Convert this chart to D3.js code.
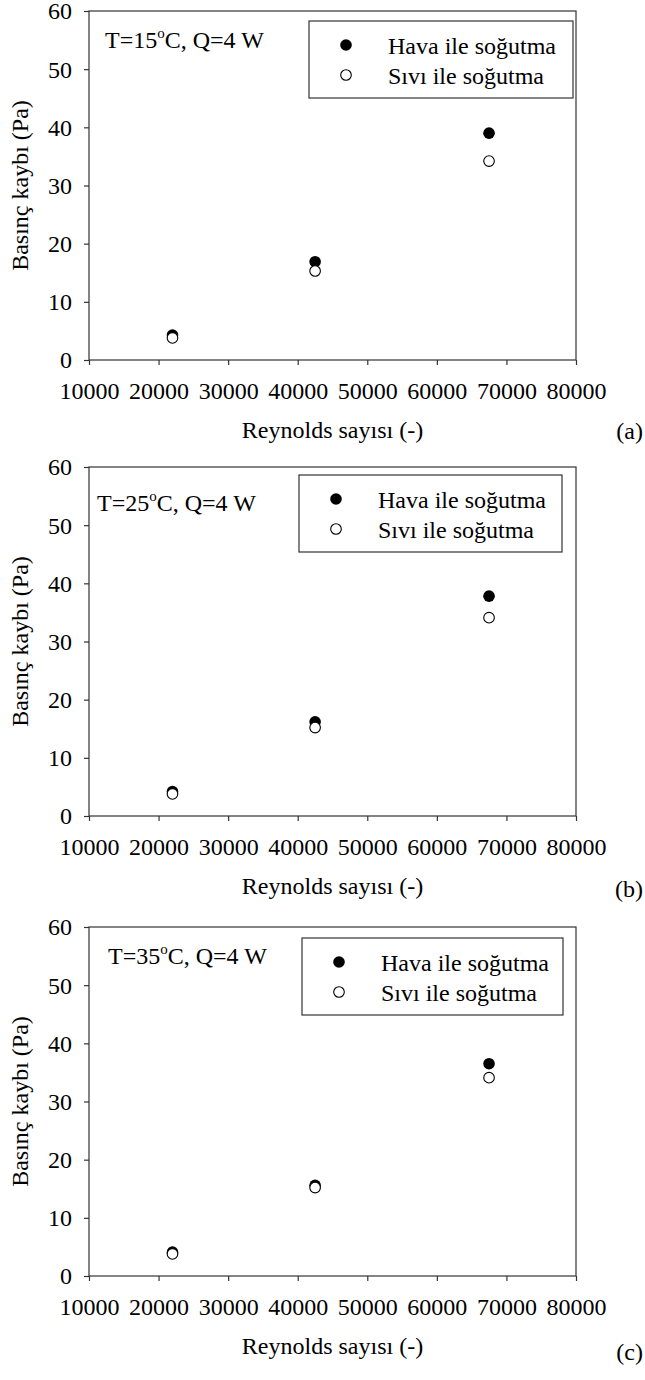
<!DOCTYPE html>
<html>
<head>
<meta charset="UTF-8">
<title>Basınç kaybı</title>
<script src="https://d3js.org/d3.v7.min.js"></script>
<style>
  html, body { margin: 0; padding: 0; background: #fff; }
  svg text { font-family: "Liberation Serif", "Times New Roman", serif; fill: #000; }
</style>
</head>
<body>
<div id="container"></div>
<script>
// data
const reynolds = [22000, 42500, 67500];
const panelNames = ["(a)", "(b)", "(c)"];
const panelTemps = ["15", "25", "35"];
const havaA = [4.3, 16.9, 39.0];
const siviA = [3.8, 15.3, 34.2];
const havaB = [4.2, 16.2, 37.8];
const siviB = [3.8, 15.2, 34.1];
const havaC = [4.1, 15.6, 36.5];
const siviC = [3.8, 15.2, 34.1];
const xTicks = [10000, 20000, 30000, 40000, 50000, 60000, 70000, 80000];
const yTicks = [0, 10, 20, 30, 40, 50, 60];
const seriesNames = ["Hava ile soğutma", "Sıvı ile soğutma"];

const havaAll = [havaA, havaB, havaC];
const siviAll = [siviA, siviB, siviC];

const width = 645, height = 1380;
const left = 89, right = 576, plotH = 349;
const tops = [11, 467, 927];
// small per-panel layout offsets (annotation / legend box / panel label)
const noteX = [105, 97, 108], noteDy = [37, 44, 37];
const legX = [309, 299, 302], legDy = [10, 8, 11], legW = [264, 263, 261];
const labelDy = [79, 81, 84];

const svg = d3.select("#container").append("svg")
  .attr("width", width).attr("height", height);

const x = d3.scaleLinear().domain([10000, 80000]).range([left, right]);

tops.forEach((top, p) => {
  const bottom = top + plotH;
  const y = d3.scaleLinear().domain([0, 60]).range([bottom, top]);
  const g = svg.append("g");

  // frame
  g.append("rect")
    .attr("x", left).attr("y", top)
    .attr("width", right - left).attr("height", plotH)
    .attr("fill", "none").attr("stroke", "#333").attr("stroke-width", 1.2);

  // axes
  const xa = g.append("g").attr("transform", `translate(0,${bottom})`)
    .call(d3.axisBottom(x).tickValues(xTicks).tickFormat(d3.format("d")).tickSize(5).tickSizeOuter(0));
  xa.select(".domain").remove();
  xa.selectAll("line").attr("stroke", "#333").attr("stroke-width", 1.2);
  xa.selectAll("text").attr("y", 39).attr("dy", 0)
    .style("font-size", "24px").style("font-family", "Liberation Serif").attr("fill", "#000");

  const ya = g.append("g").attr("transform", `translate(${left},0)`)
    .call(d3.axisLeft(y).tickValues(yTicks).tickSize(5).tickPadding(12).tickSizeOuter(0));
  ya.select(".domain").remove();
  ya.selectAll("line").attr("stroke", "#333").attr("stroke-width", 1.2);
  ya.selectAll("text").attr("dy", "0.33em")
    .style("font-size", "24px").style("font-family", "Liberation Serif").attr("fill", "#000");

  // axis titles
  g.append("text")
    .attr("x", (left + right) / 2).attr("y", bottom + 78)
    .attr("text-anchor", "middle").style("font-size", "24px")
    .text("Reynolds sayısı (-)");
  g.append("text")
    .attr("transform", `translate(28,${(top + bottom) / 2}) rotate(-90)`)
    .attr("text-anchor", "middle").style("font-size", "24px")
    .text("Basınç kaybı (Pa)");
  g.append("text")
    .attr("x", 643).attr("y", bottom + labelDy[p])
    .attr("text-anchor", "end").style("font-size", "24px")
    .text(panelNames[p]);

  // condition note
  const note = g.append("text")
    .attr("x", noteX[p]).attr("y", top + noteDy[p])
    .style("font-size", "24px");
  note.append("tspan").text("T=" + panelTemps[p]);
  note.append("tspan").attr("dy", -10).style("font-size", "15px").text("o");
  note.append("tspan").attr("dy", 10).text("C, Q=4 W");

  // points: filled first, open on top
  g.selectAll(".hava").data(reynolds.map((r, i) => [r, havaAll[p][i]]))
    .enter().append("circle")
    .attr("cx", d => x(d[0])).attr("cy", d => y(d[1])).attr("r", 5.8)
    .attr("fill", "#000");
  g.selectAll(".sivi").data(reynolds.map((r, i) => [r, siviAll[p][i]]))
    .enter().append("circle")
    .attr("cx", d => x(d[0])).attr("cy", d => y(d[1])).attr("r", 5.3)
    .attr("fill", "#fff").attr("stroke", "#000").attr("stroke-width", 1.1);

  // legend
  const ly = top + legDy[p];
  const lg = g.append("g");
  lg.append("rect")
    .attr("x", legX[p]).attr("y", ly).attr("width", legW[p]).attr("height", 77)
    .attr("fill", "#fff").attr("stroke", "#333").attr("stroke-width", 1.2);
  seriesNames.forEach((name, i) => {
    const cy = ly + 24 + i * 30;
    lg.append("circle")
      .attr("cx", legX[p] + 37).attr("cy", cy)
      .attr("r", i === 0 ? 5.8 : 5.3)
      .attr("fill", i === 0 ? "#000" : "#fff")
      .attr("stroke", "#000").attr("stroke-width", i === 0 ? 0 : 1.1);
    lg.append("text")
      .attr("x", legX[p] + 79).attr("y", cy + 9)
      .style("font-size", "24px")
      .text(name);
  });
});
</script>
</body>
</html>
